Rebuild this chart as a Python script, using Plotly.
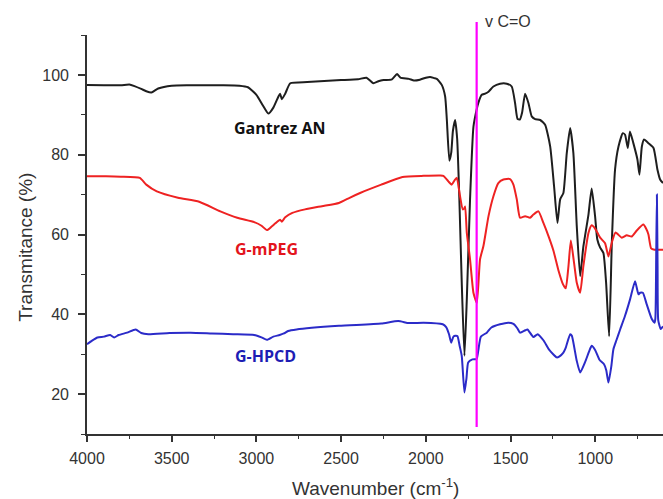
import plotly.graph_objects as go

# ---------------- data ----------------
gantrez_wn = [4000, 3900, 3800, 3750, 3720, 3680, 3650, 3620, 3580, 3500, 3400, 3200, 3100, 3050,
              3000, 2960, 2930, 2900, 2870, 2860, 2850, 2830, 2800, 2700, 2600, 2500, 2400, 2350,
              2310, 2280, 2250, 2200, 2170, 2150, 2100, 2070, 2035, 2000, 1975, 1950, 1935, 1906,
              1886, 1876, 1861, 1850, 1840, 1827, 1815, 1802, 1788, 1772, 1758, 1739, 1719, 1699,
              1690, 1670, 1650, 1630, 1601, 1562, 1522, 1493, 1473, 1459, 1445, 1432, 1414, 1394,
              1375, 1355, 1325, 1296, 1266, 1243, 1223, 1207, 1188, 1168, 1148, 1129, 1109, 1089,
              1070, 1040, 1021, 1001, 988, 971, 952, 936, 918, 902, 883, 863, 837, 824, 808, 795,
              775, 751, 739, 725, 712, 686, 656, 633, 617, 600]
gantrez_t = [97.5, 97.4, 97.4, 97.6, 97.2, 96.5, 95.9, 95.6, 96.6, 97.3, 97.4, 97.4, 97.3, 96.9,
             95.0, 92.2, 90.3, 91.8, 94.6, 95.3, 93.9, 95.3, 97.9, 98.2, 98.5, 98.7, 98.9, 99.3,
             97.9, 98.4, 98.7, 98.9, 100.2, 99.3, 99.0, 98.6, 98.8, 99.3, 99.5, 99.2, 99.0, 97.5,
             94.6, 88.8, 78.5, 80.5, 86.0, 88.7, 84.0, 68.8, 48.0, 29.6, 43.8, 68.8, 87.0, 91.5,
             93.0, 95.0, 95.3, 95.8, 97.1, 97.8, 97.8, 97.1, 92.9, 89.0, 88.8, 90.5, 95.3, 92.9,
             89.6, 88.9, 88.7, 87.5, 82.1, 72.1, 62.9, 68.8, 70.4, 80.4, 86.7, 80.4, 62.1, 49.6,
             57.0, 65.0, 71.5, 64.6, 58.8, 56.7, 55.4, 48.0, 34.5, 58.0, 76.3, 82.0, 85.4, 85.0,
             81.7, 85.8, 82.9, 78.8, 75.0, 82.0, 83.8, 82.9, 81.7, 76.3, 73.8, 72.9]

mpeg_wn = [4000, 3888, 3800, 3688, 3650, 3588, 3463, 3338, 3213, 3113, 3013, 2970, 2938, 2910,
           2888, 2860, 2850, 2830, 2788, 2713, 2613, 2513, 2450, 2388, 2263, 2138, 2013, 1913,
           1896, 1867, 1847, 1830, 1817, 1805, 1798, 1782, 1774, 1768, 1758, 1739, 1719, 1699,
           1680, 1660, 1630, 1601, 1572, 1542, 1503, 1483, 1463, 1444, 1414, 1385, 1365, 1335,
           1306, 1276, 1247, 1217, 1190, 1174, 1158, 1144, 1125, 1109, 1089, 1070, 1040, 1021,
           1001, 971, 942, 922, 902, 880, 843, 814, 785, 755, 716, 700, 686, 670, 650, 600]
mpeg_t = [74.6, 74.6, 74.5, 74.2, 72.5, 70.8, 69.2, 68.2, 65.8, 64.2, 63.1, 62.2, 61.1, 62.0,
          62.8, 63.7, 63.2, 64.3, 65.4, 66.3, 67.1, 67.9, 69.2, 70.4, 72.5, 74.4, 74.7, 74.8,
          74.7, 73.3, 72.5, 73.6, 74.2, 71.5, 69.6, 66.3, 66.5, 67.0, 60.4, 53.8, 45.4, 42.8,
          53.8, 57.1, 64.6, 69.6, 72.9, 73.8, 73.9, 72.5, 68.8, 64.2, 64.6, 64.2, 65.0, 65.8,
          62.9, 59.6, 56.0, 51.0, 47.5, 46.5, 52.1, 58.5, 52.9, 47.9, 45.4, 52.1, 60.4, 62.3,
          61.5, 59.2, 57.8, 54.5, 58.0, 60.5, 59.2, 59.8, 59.5, 61.0, 62.5, 61.5, 60.0, 56.5,
          56.2, 56.2]

hpcd_wn = [4000, 3970, 3938, 3900, 3863, 3840, 3813, 3763, 3713, 3680, 3638, 3513, 3388, 3263,
           3138, 3013, 2970, 2938, 2900, 2863, 2838, 2813, 2763, 2513, 2263, 2163, 2100, 2013,
           1900, 1880, 1863, 1850, 1837, 1825, 1813, 1800, 1788, 1772, 1760, 1750, 1725, 1700,
           1690, 1675, 1640, 1613, 1562, 1513, 1483, 1460, 1444, 1413, 1400, 1365, 1340, 1306,
           1270, 1227, 1213, 1188, 1175, 1148, 1138, 1110, 1089, 1060, 1038, 1021, 1000, 975,
           948, 935, 922, 905, 893, 875, 853, 825, 794, 765, 745, 735, 719, 696, 666, 650, 645,
           640, 636, 632, 628, 613, 600]
hpcd_t = [32.5, 33.4, 34.2, 34.4, 34.8, 34.2, 34.8, 35.4, 36.2, 35.3, 35.0, 35.3, 35.4, 35.2,
          35.0, 34.8, 34.2, 33.6, 34.4, 34.8, 35.2, 35.8, 36.2, 37.1, 37.7, 38.3, 37.8, 37.9,
          37.5, 36.8, 35.0, 32.9, 34.4, 34.6, 34.5, 32.0, 29.6, 20.4, 24.0, 27.9, 28.7, 28.8,
          31.0, 34.4, 35.4, 36.7, 37.5, 37.9, 37.6, 36.5, 35.4, 36.0, 36.2, 34.3, 35.0, 33.5,
          31.0, 29.2, 29.4, 30.4, 31.5, 35.0, 34.6, 28.5, 25.4, 28.0, 30.5, 32.1, 31.0, 28.6,
          27.5, 26.0, 22.9, 27.0, 31.2, 33.5, 36.2, 39.5, 43.8, 48.3, 45.0, 45.4, 45.4, 42.5,
          38.8, 37.9, 39.0, 55.0, 70.0, 52.0, 38.5, 36.3, 37.0]

co_band_wn = 1700          # v C=O marker position
series_names = ["Gantrez AN", "G-mPEG", "G-HPCD"]
label_wn = [2861, 2938, 2945]
label_t = [86.75, 56.25, 29.5]
x_ticks = [4000, 3500, 3000, 2500, 2000, 1500, 1000]
y_ticks = [20, 40, 60, 80, 100]

# ---------------- figure ----------------
line_colors = ["#1e1e1e", "#ee2222", "#2b2bc8"]
label_colors = ["#111111", "#e3141c", "#1d1db4"]

fig = go.Figure()
for wn, t, c, name in zip([gantrez_wn, mpeg_wn, hpcd_wn], [gantrez_t, mpeg_t, hpcd_t],
                          line_colors, series_names):
    fig.add_trace(go.Scatter(x=wn, y=t, mode="lines", name=name,
                             line=dict(color=c, width=2, shape="spline", smoothing=0.5),
                             showlegend=False, hoverinfo="skip"))

for name, x, y, c in zip(series_names, label_wn, label_t, label_colors):
    fig.add_annotation(x=x, y=y, xref="x", yref="y", text="<b>%s</b>" % name, showarrow=False,
                       font=dict(family="Open Sans", size=16, color=c),
                       xanchor="center", yanchor="middle")

# C=O marker line
fig.add_shape(type="line", xref="x", yref="paper", x0=co_band_wn, x1=co_band_wn,
              y0=0.0175, y1=1.0325, line=dict(color="#ff00ff", width=2.2))
fig.add_annotation(x=co_band_wn, xref="x", y=1.035, yref="paper", text="v C=O",
                   showarrow=False, xanchor="left", yanchor="middle", xshift=6,
                   font=dict(family="Arial", size=16, color="#333333"))

# axis titles
fig.add_annotation(x=0.5, y=-0.133, xref="paper", yref="paper",
                   text="Wavenumber (cm<sup>-1</sup>)", showarrow=False,
                   xanchor="center", yanchor="middle",
                   font=dict(family="Arial", size=19, color="#333333"))
fig.add_annotation(x=-0.106, y=0.469, xref="paper", yref="paper",
                   text="Transmitance (%)", showarrow=False, textangle=-90,
                   xanchor="center", yanchor="middle",
                   font=dict(family="Arial", size=19, color="#333333"))

axis_font = dict(family="Arial", size=16, color="#333333")
fig.update_layout(
    width=663, height=499,
    margin=dict(l=87, r=0, t=35, b=65),
    paper_bgcolor="white", plot_bgcolor="white",
    hovermode=False,
    xaxis=dict(range=[4000, 600], tickvals=x_ticks, ticks="outside", ticklen=6, tickwidth=1.5,
               tickcolor="#333333", showline=True, linecolor="#333333", linewidth=1.6,
               showgrid=False, zeroline=False, tickfont=axis_font, ticklabelstandoff=3,
               minor=dict(dtick=250, tick0=0, ticks="outside", ticklen=3, tickwidth=1.2,
                          tickcolor="#333333", showgrid=False)),
    yaxis=dict(range=[10, 110], tickvals=y_ticks, ticks="outside", ticklen=7, tickwidth=1.5,
               tickcolor="#333333", showline=True, linecolor="#333333", linewidth=1.6,
               showgrid=False, zeroline=False, tickfont=axis_font, ticklabelstandoff=6,
               minor=dict(dtick=10, tick0=0, ticks="outside", ticklen=4, tickwidth=1.2,
                          tickcolor="#333333", showgrid=False)),
)

fig.write_html("out.html", config={"displayModeBar": False},
               post_script="document.body.style.margin='0';document.body.style.overflow='hidden';")
